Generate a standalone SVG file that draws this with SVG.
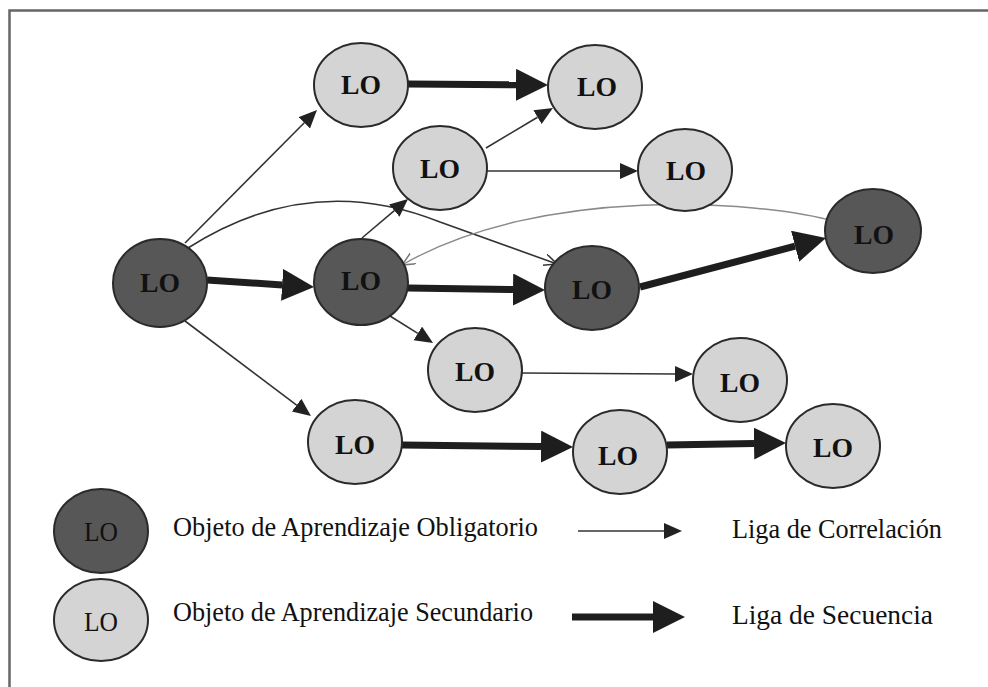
<svg xmlns="http://www.w3.org/2000/svg" width="988" height="687" viewBox="0 0 988 687">
<style>
.dark{fill:#575757;stroke:#2a2a2a;stroke-width:2}
.light{fill:#d4d4d4;stroke:#2a2a2a;stroke-width:2}
.lo{font-family:"Liberation Serif","Times New Roman",serif;font-weight:bold;font-size:28px;fill:#111;text-anchor:middle}
.lol{font-family:"Liberation Serif","Times New Roman",serif;font-size:27px;fill:#111;text-anchor:middle}
.leg{font-family:"Liberation Serif","Times New Roman",serif;font-size:28px;fill:#111}
.thin{fill:none;stroke:#333;stroke-width:1.6}
.thick{fill:none;stroke:#1e1e1e;stroke-width:7}
.curve{fill:none;stroke:#333;stroke-width:1.6}
.gcurve{fill:none;stroke:#8a8a8a;stroke-width:1.4}
</style>
<defs>
<marker id="ah" markerUnits="userSpaceOnUse" markerWidth="20" markerHeight="18" refX="0" refY="8" orient="auto"><path d="M0,0 L18,8 L0,16 z" fill="#222"/></marker>
<marker id="ahT" markerUnits="userSpaceOnUse" markerWidth="34" markerHeight="34" refX="0" refY="16" orient="auto"><path d="M0,0 L32,16 L0,32 z" fill="#1e1e1e"/></marker>
<marker id="open" markerUnits="userSpaceOnUse" markerWidth="16" markerHeight="14" refX="13" refY="6" orient="auto"><path d="M0,0 L13,6 L0,12" fill="none" stroke="#333" stroke-width="1.5"/></marker>
<marker id="openG" markerUnits="userSpaceOnUse" markerWidth="16" markerHeight="14" refX="13" refY="6" orient="auto"><path d="M0,0 L13,6 L0,12" fill="none" stroke="#777" stroke-width="1.5"/></marker>
</defs>
<rect width="988" height="687" fill="#fff"/>
<path d="M9.5,687 L9.5,10.5 L988,10.5" fill="none" stroke="#666" stroke-width="2.5"/>
<g id="connectors">
<path class="thin" d="M185,243 L304.3,122.8" marker-end="url(#ah)"/>
<path class="curve" d="M188,248 Q310,170 440,222 L557,264" marker-end="url(#open)"/>
<path class="gcurve" d="M837,222 C760,200 540,185 402,265" marker-end="url(#openG)"/>
<path class="thick" d="M207,280 L282.1,284.9" marker-end="url(#ahT)"/>
<path class="thick" d="M408,84 L516,84.8" marker-end="url(#ahT)"/>
<path class="thick" d="M408,288 L513,289.5" marker-end="url(#ahT)"/>
<path class="thick" d="M640,287 L795.1,246.2" marker-end="url(#ahT)"/>
<path class="thick" d="M402,445 L541,446.6" marker-end="url(#ahT)"/>
<path class="thick" d="M667,445 L754,443.5" marker-end="url(#ahT)"/>
<path class="thin" d="M362,238 L394.3,210.6" marker-end="url(#ah)"/>
<path class="thin" d="M486,148 L537.5,117.2" marker-end="url(#ah)"/>
<path class="thin" d="M487,171 L620,171" marker-end="url(#ah)"/>
<path class="thin" d="M390,316 L417.8,333.4" marker-end="url(#ah)"/>
<path class="thin" d="M522,373 L675,374" marker-end="url(#ah)"/>
<path class="thin" d="M185,321 L296.6,405.2" marker-end="url(#ah)"/>
</g>
<g id="nA"><ellipse class="dark" cx="160" cy="283" rx="47" ry="44"/><text class="lo" x="160" y="292" textLength="40" lengthAdjust="spacingAndGlyphs">LO</text></g>
<g id="nB"><ellipse class="light" cx="361" cy="85" rx="47" ry="42"/><text class="lo" x="361" y="94" textLength="40" lengthAdjust="spacingAndGlyphs">LO</text></g>
<g id="nC"><ellipse class="light" cx="440" cy="168" rx="47" ry="42"/><text class="lo" x="440" y="178" textLength="40" lengthAdjust="spacingAndGlyphs">LO</text></g>
<g id="nD"><ellipse class="dark" cx="361" cy="282" rx="47" ry="43"/><text class="lo" x="361" y="290" textLength="40" lengthAdjust="spacingAndGlyphs">LO</text></g>
<g id="nE"><ellipse class="light" cx="595" cy="87" rx="47" ry="42"/><text class="lo" x="597" y="96" textLength="40" lengthAdjust="spacingAndGlyphs">LO</text></g>
<g id="nF"><ellipse class="light" cx="685" cy="170" rx="47" ry="41"/><text class="lo" x="686" y="180" textLength="40" lengthAdjust="spacingAndGlyphs">LO</text></g>
<g id="nG"><ellipse class="dark" cx="592" cy="288" rx="47" ry="42"/><text class="lo" x="592" y="299" textLength="40" lengthAdjust="spacingAndGlyphs">LO</text></g>
<g id="nH"><ellipse class="dark" cx="873" cy="231" rx="48" ry="42"/><text class="lo" x="874" y="244" textLength="40" lengthAdjust="spacingAndGlyphs">LO</text></g>
<g id="nI"><ellipse class="light" cx="475" cy="370" rx="47" ry="42"/><text class="lo" x="475" y="381" textLength="40" lengthAdjust="spacingAndGlyphs">LO</text></g>
<g id="nJ"><ellipse class="light" cx="740" cy="380" rx="47" ry="42"/><text class="lo" x="740" y="392" textLength="40" lengthAdjust="spacingAndGlyphs">LO</text></g>
<g id="nK"><ellipse class="light" cx="355" cy="442" rx="47" ry="42"/><text class="lo" x="355" y="454" textLength="40" lengthAdjust="spacingAndGlyphs">LO</text></g>
<g id="nL"><ellipse class="light" cx="620" cy="452" rx="47" ry="42"/><text class="lo" x="618" y="465" textLength="40" lengthAdjust="spacingAndGlyphs">LO</text></g>
<g id="nM"><ellipse class="light" cx="833" cy="446" rx="47" ry="42"/><text class="lo" x="833" y="457" textLength="40" lengthAdjust="spacingAndGlyphs">LO</text></g>
<g id="legend">
<ellipse class="dark" cx="101" cy="531" rx="47" ry="42"/><text class="lol" x="101" y="541" textLength="34" lengthAdjust="spacingAndGlyphs">LO</text>
<ellipse class="light" cx="101" cy="620" rx="47" ry="41"/><text class="lol" x="101" y="631" textLength="34" lengthAdjust="spacingAndGlyphs">LO</text>
<text class="leg" x="173" y="536" textLength="365" lengthAdjust="spacingAndGlyphs">Objeto de Aprendizaje Obligatorio</text>
<text class="leg" x="173" y="621" textLength="360" lengthAdjust="spacingAndGlyphs">Objeto de Aprendizaje Secundario</text>
<text class="leg" x="732" y="538" textLength="210" lengthAdjust="spacingAndGlyphs">Liga de Correlación</text>
<text class="leg" x="732" y="624" textLength="201" lengthAdjust="spacingAndGlyphs">Liga de Secuencia</text>
<path class="thin" d="M578,531 L664,531" marker-end="url(#ah)"/>
<path class="thick" d="M572,617 L653,617" stroke-width="8" marker-end="url(#ahT)"/>
</g>
</svg>
